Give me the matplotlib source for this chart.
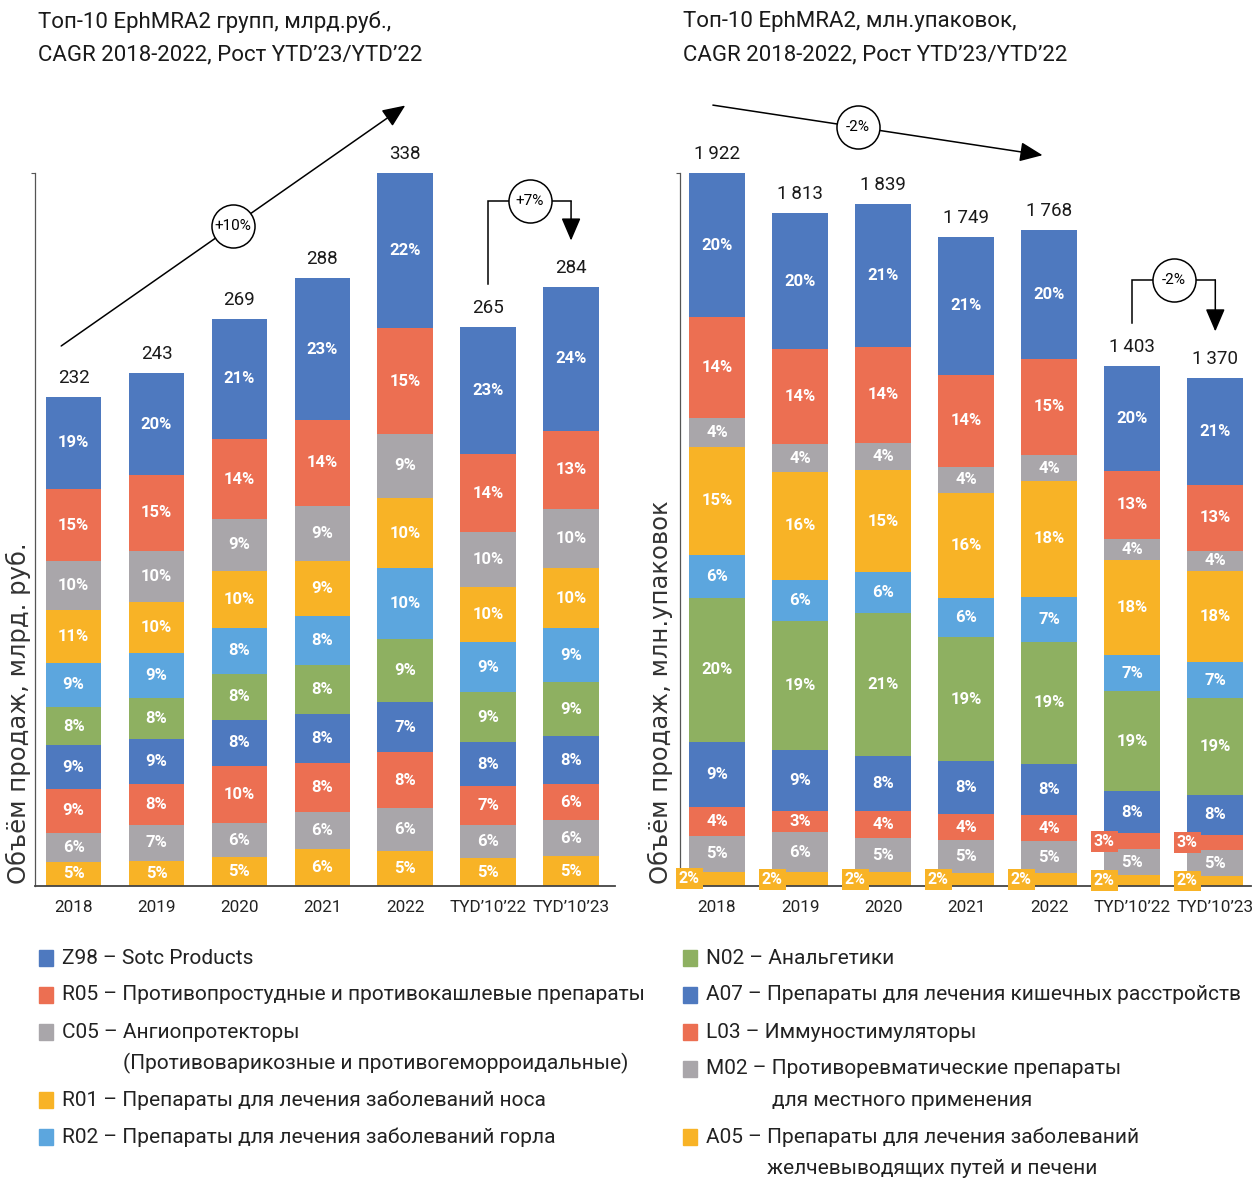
import matplotlib.pyplot as plt
import matplotlib.patches as patches
import numpy as np

plt.rcParams['font.family'] = ['Roboto', 'DejaVu Sans']

W, H = 1253, 1182

periods = ['2018', '2019', '2020', '2021', '2022', 'TYD’10’22', 'TYD’10’23']

# stacking order, bottom to top
groups = ['A05', 'M02', 'L03', 'A07', 'N02', 'R02', 'R01', 'C05', 'R05', 'Z98']
group_colors = ['#F8B326', '#A9A6AA', '#EC6F52', '#4E79BF', '#8EB061',
                '#5CA6DE', '#F8B326', '#A9A6AA', '#EC6F52', '#4E79BF']

rub_totals = [232, 243, 269, 288, 338, 265, 284]
rub_shares = [
    [5, 5, 5, 6, 5, 5, 5],          # A05
    [6, 7, 6, 6, 6, 6, 6],          # M02
    [9, 8, 10, 8, 8, 7, 6],         # L03
    [9, 9, 8, 8, 7, 8, 8],          # A07
    [8, 8, 8, 8, 9, 9, 9],          # N02
    [9, 9, 8, 8, 10, 9, 9],         # R02
    [11, 10, 10, 9, 10, 10, 10],    # R01
    [10, 10, 9, 9, 9, 10, 10],      # C05
    [15, 15, 14, 14, 15, 14, 13],   # R05
    [19, 20, 21, 23, 22, 23, 24],   # Z98
]

pack_totals = [1922, 1813, 1839, 1749, 1768, 1403, 1370]
pack_shares = [
    [2, 2, 2, 2, 2, 2, 2],          # A05
    [5, 6, 5, 5, 5, 5, 5],          # M02
    [4, 3, 4, 4, 4, 3, 3],          # L03
    [9, 9, 8, 8, 8, 8, 8],          # A07
    [20, 19, 21, 19, 19, 19, 19],   # N02
    [6, 6, 6, 6, 7, 7, 7],          # R02
    [15, 16, 15, 16, 18, 18, 18],   # R01
    [4, 4, 4, 4, 4, 4, 4],          # C05
    [14, 14, 14, 14, 15, 13, 13],   # R05
    [20, 20, 21, 21, 20, 20, 21],   # Z98
]

left_legend_codes = ['Z98', 'R05', 'C05', 'R01', 'R02']
left_legend_names = ['Sotc Products',
                     'Противопростудные и противокашлевые препараты',
                     'Ангиопротекторы\n(Противоварикозные и противогеморроидальные)',
                     'Препараты для лечения заболеваний носа',
                     'Препараты для лечения заболеваний горла']
right_legend_codes = ['N02', 'A07', 'L03', 'M02', 'A05']
right_legend_names = ['Анальгетики',
                      'Препараты для лечения кишечных расстройств',
                      'Иммуностимуляторы',
                      'Противоревматические препараты\nдля местного применения',
                      'Препараты для лечения заболеваний\nжелчевыводящих путей и печени']

fig = plt.figure(figsize=(W / 100, H / 100), dpi=100)
fig.patch.set_facecolor('white')
renderer = fig.canvas.get_renderer()

arrow_style = '-|>,head_length=0.7,head_width=0.3'


def fmt_total(v):
    return f'{v:,}'.replace(',', '\u2009')


def growth_badge(ax, x, y, text):
    ax.plot(x, y, 'o', ms=31, mfc='white', mec='black', mew=1.1, zorder=5, clip_on=False)
    ax.text(x, y, text, ha='center', va='center', fontsize=11, zorder=6)


def draw_panel(rect, totals, shares, xlim, title, ylabel, ylabel_x,
               cagr_from, cagr_to, cagr_at, cagr_text, ytd_text):
    ax = fig.add_axes(rect)
    x = np.arange(len(periods))
    ymax = max(totals)
    shares = np.array(shares, dtype=float)
    parts = shares / shares.sum(axis=0) * np.array(totals, dtype=float)
    bottoms = np.zeros(len(periods))
    width = 0.67

    for i in range(len(groups)):
        ax.bar(x, parts[i], width, bottom=bottoms, color=group_colors[i],
               edgecolor='none', zorder=2)
        for j in range(len(x)):
            cy = bottoms[j] + parts[i][j] / 2
            label = f'{shares[i][j]:.0f}%'
            if parts[i][j] < 0.025 * ymax:
                # too thin for the label: put it in a tag on the bar's left edge
                ax.text(x[j] - width / 2, cy, label, ha='center', va='center',
                        color='white', fontsize=11.5, fontweight='bold', zorder=4,
                        bbox=dict(boxstyle='square,pad=0.18', fc=group_colors[i], ec='none'))
            else:
                ax.text(x[j], cy, label, ha='center', va='center', color='white',
                        fontsize=12, fontweight='bold', zorder=3)
        bottoms += parts[i]

    for j in range(len(x)):
        ax.text(x[j], totals[j] + 0.014 * ymax, fmt_total(totals[j]),
                ha='center', va='bottom', fontsize=13.5, color='#1a1a1a')

    ax.set_xlim(*xlim)
    ax.set_ylim(0, ymax * 796 / 713)
    for s in ['top', 'right']:
        ax.spines[s].set_visible(False)
    ax.spines['left'].set_bounds(0, ymax)
    ax.spines['left'].set_color('#555555')
    ax.spines['left'].set_linewidth(0.9)
    ax.spines['bottom'].set_color('#444444')
    ax.spines['bottom'].set_linewidth(1.3)
    ax.set_yticks([ymax])
    ax.tick_params(axis='y', length=3, color='#555555', labelleft=False)
    ax.set_xticks(x, periods)
    ax.tick_params(axis='x', length=0, pad=10, labelsize=12.3, labelcolor='#222222')
    ax.set_facecolor('none')

    # CAGR arrow across 2018-2022
    ax.annotate('', xy=cagr_to, xytext=cagr_from, annotation_clip=False,
                arrowprops=dict(arrowstyle=arrow_style, color='black', lw=1.1,
                                mutation_scale=20, shrinkA=0, shrinkB=0))
    cx = cagr_from[0] + (cagr_to[0] - cagr_from[0]) * cagr_at
    cy = cagr_from[1] + (cagr_to[1] - cagr_from[1]) * cagr_at
    growth_badge(ax, cx, cy, cagr_text)

    # YTD bracket between the last two bars
    y0 = totals[5] + 0.06 * ymax
    ytop = max(totals[5], totals[6]) + 0.12 * ymax
    yend = totals[6] + 0.065 * ymax
    ax.plot([5, 5, 6], [y0, ytop, ytop], color='black', lw=1.1, clip_on=False,
            solid_joinstyle='miter')
    ax.annotate('', xy=(6, yend), xytext=(6, ytop), annotation_clip=False,
                arrowprops=dict(arrowstyle=arrow_style, color='black', lw=1.1,
                                mutation_scale=20, shrinkA=0, shrinkB=0))
    growth_badge(ax, 5.5, ytop, ytd_text)

    for k, line in enumerate(title.split('\n')):
        fig.text(rect[0] + 3 / W, 1 - (22 + 33 * k) / H, line, ha='left', va='center',
                 fontsize=16, color='#1a1a1a')
    fig.text(ylabel_x / W, 1 - 884 / H, ylabel, rotation=90, ha='center', va='bottom',
             fontsize=17.5, family='DejaVu Sans', color='#333333')
    return ax


draw_panel([35 / W, 1 - 886 / H, 580 / W, 796 / H], rub_totals, rub_shares,
           (-0.466, 6.53),
           'Топ-10 EphMRA2 групп, млрд.руб.,\nCAGR 2018-2022, Рост YTD’23/YTD’22',
           'Объём продаж, млрд. руб.', 18,
           (-0.15, 256), (4, 370), 0.5, '+10%', '+7%')

draw_panel([680 / W, 1 - 886 / H, 571 / W, 796 / H], pack_totals, pack_shares,
           (-0.446, 6.43),
           'Топ-10 EphMRA2, млн.упаковок,\nCAGR 2018-2022, Рост YTD’23/YTD’22',
           'Объём продаж, млн.упаковок', 660,
           (-0.05, 2105), (3.92, 1970), 0.44, '-2%', '-2%')


def draw_legend(x_px, codes, names):
    y = 958
    for code, name in zip(codes, names):
        color = group_colors[groups.index(code)]
        lines = name.split('\n')
        fig.patches.append(patches.Rectangle((x_px / W, 1 - (y + 8) / H), 14 / W, 16 / H,
                                             transform=fig.transFigure, color=color))
        head = fig.text((x_px + 23) / W, 1 - y / H, f'{code} – ', ha='left', va='center',
                        fontsize=15, color='#222222')
        indent = head.get_window_extent(renderer).width
        head.set_text(f'{code} – {lines[0]}')
        for k, extra in enumerate(lines[1:], 1):
            fig.text((x_px + 23 + indent) / W, 1 - (y + 31 * k) / H, extra, ha='left',
                     va='center', fontsize=15, color='#222222')
        y += 37 + 31 * (len(lines) - 1)


draw_legend(39, left_legend_codes, left_legend_names)
draw_legend(683, right_legend_codes, right_legend_names)

plt.savefig('out.png', dpi=100, facecolor='white')
